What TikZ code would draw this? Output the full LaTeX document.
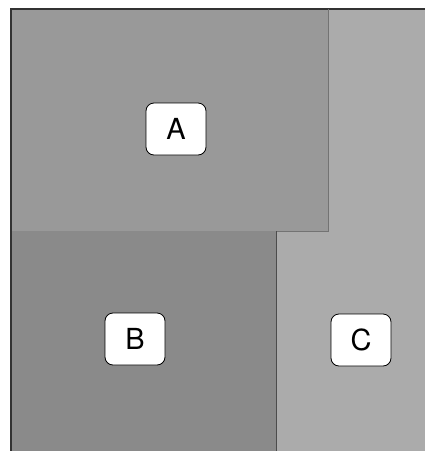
\documentclass[tikz,border=0pt]{standalone}
\usepackage{fontspec}
\setsansfont{TeX Gyre Heros}
\usepackage{tikz}
\usetikzlibrary{positioning}

\tikzset{
  zoneA/.style={fill=black!40},
  zoneB/.style={fill=black!46},
  zoneC/.style={fill=black!33},
  zonelabel/.style={draw=black,thick,fill=white,rounded corners=8pt,
    minimum width=60pt,minimum height=52pt,inner sep=0pt,
    font=\sffamily\fontsize{29}{31}\selectfont},
}

\begin{document}
\begin{tikzpicture}[x=1pt,y=-1pt]
    \useasboundingbox (0,0) rectangle (425,451);
    \fill[white] (0,0) rectangle (425,451);

    % Zones
    \fill[zoneC] (11,9) rectangle (425,451);
    \fill[zoneA] (11,9) rectangle (328,231);
    \fill[zoneB] (11,231) rectangle (276,451);

    % Edges
    \draw[black!80,line width=1.2pt] (11,451) -- (11,9) -- (425,9);
    \draw[black!55,line width=0.8pt] (328,9) -- (328,231) -- (276,231);
    \draw[black!70,line width=1pt] (276,231) -- (276,451);

    % Labels
    \node[zonelabel] (A) at (176,129) {A};
    \node[zonelabel] (B) at (135,339) {B};
    \node[zonelabel] (C) at (361,340) {C};
\end{tikzpicture}
\end{document}
